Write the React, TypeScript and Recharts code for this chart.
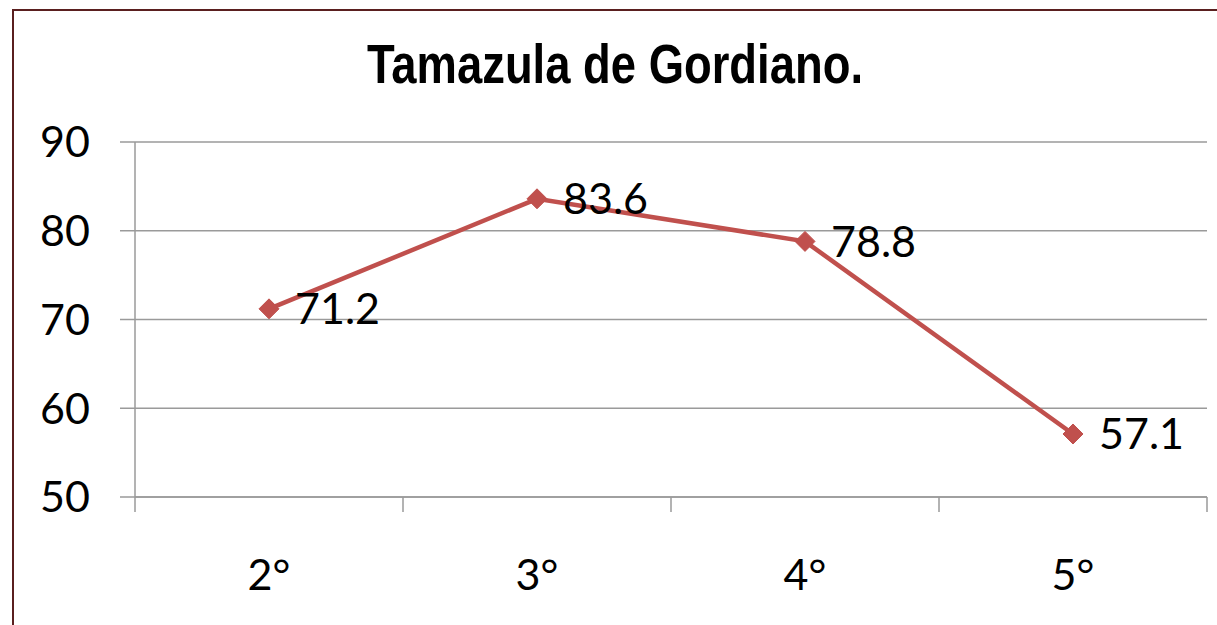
import React from 'react';
import { LineChart, Line, XAxis, YAxis, CartesianGrid, LabelList } from 'recharts';

const categories = ['2°', '3°', '4°', '5°'];
const values = [71.2, 83.6, 78.8, 57.1];
const yTicks = [50, 60, 70, 80, 90];

const RED = '#c0504d';
const GRAY = '#9a9a9a';
const FONT = 'Lato, "Open Sans", sans-serif';

const W = 1217;
const H = 625;
const Y_AXIS_W = 135;
const RIGHT = 10;
const LABEL_GAP = 62;
const HALF_BAND = (W - Y_AXIS_W - RIGHT) / categories.length / 2;

const data = categories.map((cat, i) => ({ cat, value: values[i] }));

// diamond marker like the Excel series
const Diamond = (props: any) => {
  const { cx, cy } = props;
  if (cx == null || cy == null) return null;
  const r = 10;
  return (
    <polygon
      points={`${cx},${cy - r} ${cx + r},${cy} ${cx},${cy + r} ${cx - r},${cy}`}
      fill={RED}
      stroke={RED}
    />
  );
};

// label in the middle of the band, tick marks on the band edges (Excel style)
const CatTick = (props: any) => {
  const { x, y, payload, index } = props;
  const axisY = y - LABEL_GAP;
  const last = index === categories.length - 1;
  return (
    <g>
      <line x1={x - HALF_BAND} x2={x - HALF_BAND} y1={axisY} y2={axisY + 15} stroke={GRAY} strokeWidth={1.5} />
      {last && <line x1={x + HALF_BAND} x2={x + HALF_BAND} y1={axisY} y2={axisY + 15} stroke={GRAY} strokeWidth={1.5} />}
      <text x={x} y={y} dy="0.71em" textAnchor="middle" fill="#000" fontSize={43} fontFamily={FONT}>
        {payload.value}
      </text>
    </g>
  );
};

const App: React.FC = () => {
  return (
    <div style={{ position: 'absolute', left: 0, top: 0, width: W, height: H, overflow: 'hidden', background: '#fff' }}>
      <svg width={W} height={H} style={{ position: 'absolute', left: 0, top: 0 }}>
        <rect x={13} y={10} width={1240} height={640} fill="#fff" stroke="#5a1f1f" strokeWidth={2} />
        <text
          x={367}
          y={83}
          textLength={496}
          lengthAdjust="spacingAndGlyphs"
          fontFamily='"Liberation Sans", Arial, sans-serif'
          fontWeight="bold"
          fontSize={55}
          fill="#000"
        >
          Tamazula de Gordiano.
        </text>
      </svg>
      <div style={{ position: 'absolute', left: 0, top: 0 }}>
        <LineChart width={W} height={H} data={data} margin={{ top: 142, right: RIGHT, left: 0, bottom: 0 }}>
          <CartesianGrid vertical={false} stroke={GRAY} strokeWidth={1.5} />
          <XAxis
            dataKey="cat"
            height={128}
            padding={{ left: HALF_BAND, right: HALF_BAND }}
            axisLine={{ stroke: GRAY, strokeWidth: 1.5 }}
            tickLine={false}
            tickSize={0}
            tickMargin={LABEL_GAP}
            tick={<CatTick />}
          />
          <YAxis
            width={Y_AXIS_W}
            domain={[50, 90]}
            ticks={yTicks}
            tickSize={15}
            tickMargin={30}
            axisLine={{ stroke: GRAY, strokeWidth: 1.5 }}
            tickLine={{ stroke: GRAY, strokeWidth: 1.5 }}
            tick={{ fill: '#000', fontSize: 43, fontFamily: FONT }}
          />
          <Line
            type="linear"
            dataKey="value"
            stroke={RED}
            strokeWidth={4.5}
            dot={<Diamond />}
            activeDot={false}
            isAnimationActive={false}
          >
            <LabelList
              dataKey="value"
              position="right"
              offset={26}
              fill="#000"
              fontSize={43}
              fontFamily={FONT}
            />
          </Line>
        </LineChart>
      </div>
    </div>
  );
};

export default App;
